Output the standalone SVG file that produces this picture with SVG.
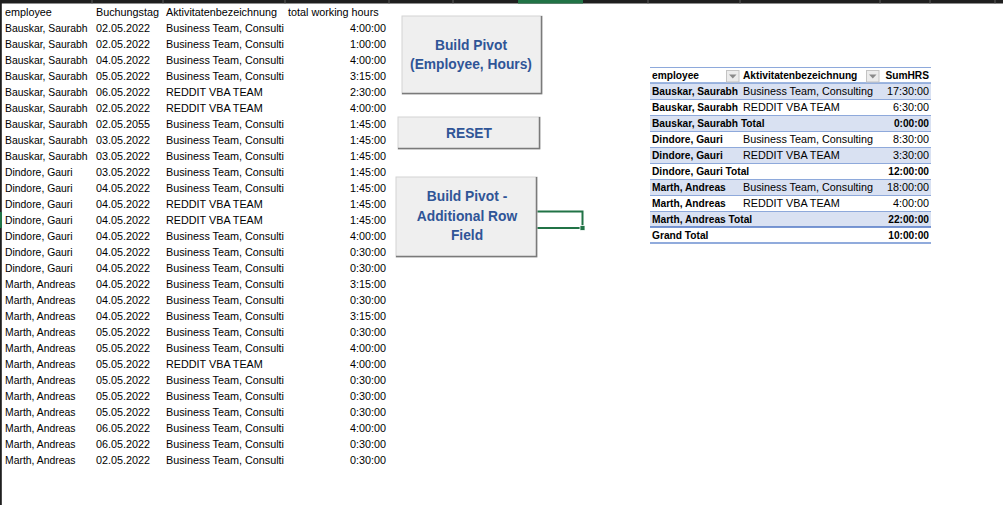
<svg xmlns="http://www.w3.org/2000/svg" width="1003" height="505" viewBox="0 0 1003 505">
<style>
.t{font-family:"Liberation Sans",Arial,sans-serif;font-size:10.8px;fill:#000}
.e{font-size:10.4px}
.b{font-family:"Liberation Sans",Arial,sans-serif;font-size:10.2px;font-weight:bold;fill:#000}
.r{text-anchor:end}
.btn{fill:#efefef;stroke:#d4d4d4;stroke-width:1}
.sh{fill:none;stroke:#7a7a7a;stroke-width:1.5}
.bt{font-family:"Liberation Sans",Arial,sans-serif;font-size:13.8px;font-weight:bold;fill:#2f5597;text-anchor:middle}
.sep{stroke:#5a5a5a;stroke-width:1}
.shade{fill:#d9e1f2}
.pl{stroke:#8ea9db;stroke-width:1}
.dd{fill:#ececec;stroke:#c4c4c4;stroke-width:1}
.tri{fill:#8a8a8a}
</style>
<rect width="1003" height="505" fill="#ffffff"/>
<g id="sheet-frame">
<rect x="0" y="0" width="1003" height="3.5" fill="#1f1f1f"/>
<line class="sep" x1="92" y1="0" x2="92" y2="3.5"/>
<line class="sep" x1="163" y1="0" x2="163" y2="3.5"/>
<line class="sep" x1="285" y1="0" x2="285" y2="3.5"/>
<line class="sep" x1="389" y1="0" x2="389" y2="3.5"/>
<line class="sep" x1="453" y1="0" x2="453" y2="3.5"/>
<line class="sep" x1="648" y1="0" x2="648" y2="3.5"/>
<line class="sep" x1="740" y1="0" x2="740" y2="3.5"/>
<line class="sep" x1="880" y1="0" x2="880" y2="3.5"/>
<line class="sep" x1="930" y1="0" x2="930" y2="3.5"/>
<line class="sep" x1="995" y1="0" x2="995" y2="3.5"/>
<rect x="518" y="0" width="65" height="3.5" fill="#217346"/>
<rect x="0" y="0" width="1.8" height="505" fill="#1f1f1f"/>
<rect x="0" y="212" width="2" height="16" fill="#217346"/>
</g>
<g id="selected-cell">
<rect x="518" y="211.5" width="64.5" height="16.5" fill="none" stroke="#217346" stroke-width="2"/>
<rect x="580" y="225.5" width="5" height="5" fill="#217346" stroke="#ffffff" stroke-width="0.8"/>
</g>
<g id="data-table">
<text class="t"><tspan x="5" y="16">employee</tspan><tspan x="96" y="16">Buchungstag</tspan><tspan x="166" y="16">Aktivitatenbezeichnung</tspan><tspan x="288" y="16">total working hours</tspan></text>
<text class="t e">
<tspan x="5" y="32">Bauskar, Saurabh</tspan><tspan x="5" y="48">Bauskar, Saurabh</tspan><tspan x="5" y="64">Bauskar, Saurabh</tspan><tspan x="5" y="80">Bauskar, Saurabh</tspan><tspan x="5" y="96">Bauskar, Saurabh</tspan><tspan x="5" y="112">Bauskar, Saurabh</tspan><tspan x="5" y="128">Bauskar, Saurabh</tspan><tspan x="5" y="144">Bauskar, Saurabh</tspan><tspan x="5" y="160">Bauskar, Saurabh</tspan><tspan x="5" y="176">Dindore, Gauri</tspan><tspan x="5" y="192">Dindore, Gauri</tspan><tspan x="5" y="208">Dindore, Gauri</tspan><tspan x="5" y="224">Dindore, Gauri</tspan><tspan x="5" y="240">Dindore, Gauri</tspan><tspan x="5" y="256">Dindore, Gauri</tspan><tspan x="5" y="272">Dindore, Gauri</tspan><tspan x="5" y="288">Marth, Andreas</tspan><tspan x="5" y="304">Marth, Andreas</tspan><tspan x="5" y="320">Marth, Andreas</tspan><tspan x="5" y="336">Marth, Andreas</tspan><tspan x="5" y="352">Marth, Andreas</tspan><tspan x="5" y="368">Marth, Andreas</tspan><tspan x="5" y="384">Marth, Andreas</tspan><tspan x="5" y="400">Marth, Andreas</tspan><tspan x="5" y="416">Marth, Andreas</tspan><tspan x="5" y="432">Marth, Andreas</tspan><tspan x="5" y="448">Marth, Andreas</tspan><tspan x="5" y="464">Marth, Andreas</tspan>
</text>
<text class="t">
<tspan x="96" y="32">02.05.2022</tspan><tspan x="96" y="48">02.05.2022</tspan><tspan x="96" y="64">04.05.2022</tspan><tspan x="96" y="80">05.05.2022</tspan><tspan x="96" y="96">06.05.2022</tspan><tspan x="96" y="112">02.05.2022</tspan><tspan x="96" y="128">02.05.2055</tspan><tspan x="96" y="144">03.05.2022</tspan><tspan x="96" y="160">03.05.2022</tspan><tspan x="96" y="176">03.05.2022</tspan><tspan x="96" y="192">04.05.2022</tspan><tspan x="96" y="208">04.05.2022</tspan><tspan x="96" y="224">04.05.2022</tspan><tspan x="96" y="240">04.05.2022</tspan><tspan x="96" y="256">04.05.2022</tspan><tspan x="96" y="272">04.05.2022</tspan><tspan x="96" y="288">04.05.2022</tspan><tspan x="96" y="304">04.05.2022</tspan><tspan x="96" y="320">04.05.2022</tspan><tspan x="96" y="336">05.05.2022</tspan><tspan x="96" y="352">05.05.2022</tspan><tspan x="96" y="368">05.05.2022</tspan><tspan x="96" y="384">05.05.2022</tspan><tspan x="96" y="400">05.05.2022</tspan><tspan x="96" y="416">05.05.2022</tspan><tspan x="96" y="432">06.05.2022</tspan><tspan x="96" y="448">06.05.2022</tspan><tspan x="96" y="464">02.05.2022</tspan>
</text>
<text class="t">
<tspan x="166" y="32">Business Team, Consulti</tspan><tspan x="166" y="48">Business Team, Consulti</tspan><tspan x="166" y="64">Business Team, Consulti</tspan><tspan x="166" y="80">Business Team, Consulti</tspan><tspan x="166" y="96">REDDIT VBA TEAM</tspan><tspan x="166" y="112">REDDIT VBA TEAM</tspan><tspan x="166" y="128">Business Team, Consulti</tspan><tspan x="166" y="144">Business Team, Consulti</tspan><tspan x="166" y="160">Business Team, Consulti</tspan><tspan x="166" y="176">Business Team, Consulti</tspan><tspan x="166" y="192">Business Team, Consulti</tspan><tspan x="166" y="208">REDDIT VBA TEAM</tspan><tspan x="166" y="224">REDDIT VBA TEAM</tspan><tspan x="166" y="240">Business Team, Consulti</tspan><tspan x="166" y="256">Business Team, Consulti</tspan><tspan x="166" y="272">Business Team, Consulti</tspan><tspan x="166" y="288">Business Team, Consulti</tspan><tspan x="166" y="304">Business Team, Consulti</tspan><tspan x="166" y="320">Business Team, Consulti</tspan><tspan x="166" y="336">Business Team, Consulti</tspan><tspan x="166" y="352">Business Team, Consulti</tspan><tspan x="166" y="368">REDDIT VBA TEAM</tspan><tspan x="166" y="384">Business Team, Consulti</tspan><tspan x="166" y="400">Business Team, Consulti</tspan><tspan x="166" y="416">Business Team, Consulti</tspan><tspan x="166" y="432">Business Team, Consulti</tspan><tspan x="166" y="448">Business Team, Consulti</tspan><tspan x="166" y="464">Business Team, Consulti</tspan>
</text>
<text class="t r">
<tspan x="386" y="32">4:00:00</tspan><tspan x="386" y="48">1:00:00</tspan><tspan x="386" y="64">4:00:00</tspan><tspan x="386" y="80">3:15:00</tspan><tspan x="386" y="96">2:30:00</tspan><tspan x="386" y="112">4:00:00</tspan><tspan x="386" y="128">1:45:00</tspan><tspan x="386" y="144">1:45:00</tspan><tspan x="386" y="160">1:45:00</tspan><tspan x="386" y="176">1:45:00</tspan><tspan x="386" y="192">1:45:00</tspan><tspan x="386" y="208">1:45:00</tspan><tspan x="386" y="224">1:45:00</tspan><tspan x="386" y="240">4:00:00</tspan><tspan x="386" y="256">0:30:00</tspan><tspan x="386" y="272">0:30:00</tspan><tspan x="386" y="288">3:15:00</tspan><tspan x="386" y="304">0:30:00</tspan><tspan x="386" y="320">3:15:00</tspan><tspan x="386" y="336">0:30:00</tspan><tspan x="386" y="352">4:00:00</tspan><tspan x="386" y="368">4:00:00</tspan><tspan x="386" y="384">0:30:00</tspan><tspan x="386" y="400">0:30:00</tspan><tspan x="386" y="416">0:30:00</tspan><tspan x="386" y="432">4:00:00</tspan><tspan x="386" y="448">0:30:00</tspan><tspan x="386" y="464">0:30:00</tspan>
</text>
</g>
<g id="btn-build-pivot">
<rect class="btn" x="402" y="16" width="140" height="78"/>
<polyline class="sh" points="541.5,16 541.5,93.5 402,93.5"/>
<text class="bt" x="471" y="50">Build Pivot</text>
<text class="bt" x="471" y="69">(Employee, Hours)</text>
</g>
<g id="btn-reset">
<rect class="btn" x="398" y="117" width="142" height="32"/>
<polyline class="sh" points="539.5,117 539.5,148.5 398,148.5"/>
<text class="bt" x="469" y="138">RESET</text>
</g>
<g id="btn-build-pivot-row">
<rect class="btn" x="396" y="177" width="141" height="80"/>
<polyline class="sh" points="536.5,177 536.5,256.5 396,256.5"/>
<text class="bt" x="467" y="201">Build Pivot -</text>
<text class="bt" x="467" y="221">Additional Row</text>
<text class="bt" x="467" y="240">Field</text>
</g>
<g id="pivot-table">
<rect class="shade" x="650" y="83" width="281" height="16"/>
<rect class="shade" x="650" y="115" width="281" height="16"/>
<rect class="shade" x="650" y="147" width="281" height="16"/>
<rect class="shade" x="650" y="179" width="281" height="16"/>
<rect class="shade" x="650" y="211" width="281" height="16"/>
<line class="pl" x1="650" y1="67.5" x2="931" y2="67.5"/>
<line x1="650" y1="83" x2="931" y2="83" stroke="#7f9fd6" stroke-width="1.5"/>
<line class="pl" x1="650" y1="99.5" x2="931" y2="99.5"/>
<line class="pl" x1="650" y1="115.5" x2="931" y2="115.5"/>
<line class="pl" x1="650" y1="131.5" x2="931" y2="131.5"/>
<line class="pl" x1="650" y1="147.5" x2="931" y2="147.5"/>
<line class="pl" x1="650" y1="163.5" x2="931" y2="163.5"/>
<line class="pl" x1="650" y1="179.5" x2="931" y2="179.5"/>
<line class="pl" x1="650" y1="195.5" x2="931" y2="195.5"/>
<line class="pl" x1="650" y1="211.5" x2="931" y2="211.5"/>
<line x1="650" y1="227" x2="931" y2="227" stroke="#4f76c4" stroke-width="1.5"/>
<line x1="650" y1="243" x2="931" y2="243" stroke="#6d8fd0" stroke-width="1.5"/>
<rect class="dd" x="726.5" y="70.5" width="12.5" height="11.5"/>
<polygon class="tri" points="729,74.5 736.5,74.5 732.75,78.5"/>
<rect class="dd" x="866.5" y="70.5" width="12.5" height="11.5"/>
<polygon class="tri" points="869,74.5 876.5,74.5 872.75,78.5"/>
<text class="b"><tspan x="652" y="79">employee</tspan><tspan x="743" y="79">Aktivitatenbezeichnung</tspan></text>
<text class="b r" x="929" y="79">SumHRS</text>
<text class="b">
<tspan x="652" y="95">Bauskar, Saurabh</tspan><tspan x="652" y="111">Bauskar, Saurabh</tspan><tspan x="652" y="127">Bauskar, Saurabh Total</tspan><tspan x="652" y="143">Dindore, Gauri</tspan><tspan x="652" y="159">Dindore, Gauri</tspan><tspan x="652" y="175">Dindore, Gauri Total</tspan><tspan x="652" y="191">Marth, Andreas</tspan><tspan x="652" y="207">Marth, Andreas</tspan><tspan x="652" y="223">Marth, Andreas Total</tspan><tspan x="652" y="239">Grand Total</tspan>
</text>
<text class="t">
<tspan x="743" y="95">Business Team, Consulting</tspan><tspan x="743" y="111">REDDIT VBA TEAM</tspan><tspan x="743" y="143">Business Team, Consulting</tspan><tspan x="743" y="159">REDDIT VBA TEAM</tspan><tspan x="743" y="191">Business Team, Consulting</tspan><tspan x="743" y="207">REDDIT VBA TEAM</tspan>
</text>
<text class="t r">
<tspan x="929" y="95">17:30:00</tspan><tspan x="929" y="111">6:30:00</tspan><tspan x="929" y="143">8:30:00</tspan><tspan x="929" y="159">3:30:00</tspan><tspan x="929" y="191">18:00:00</tspan><tspan x="929" y="207">4:00:00</tspan>
</text>
<text class="b r">
<tspan x="929" y="127">0:00:00</tspan><tspan x="929" y="175">12:00:00</tspan><tspan x="929" y="223">22:00:00</tspan><tspan x="929" y="239">10:00:00</tspan>
</text>
</g>
</svg>
